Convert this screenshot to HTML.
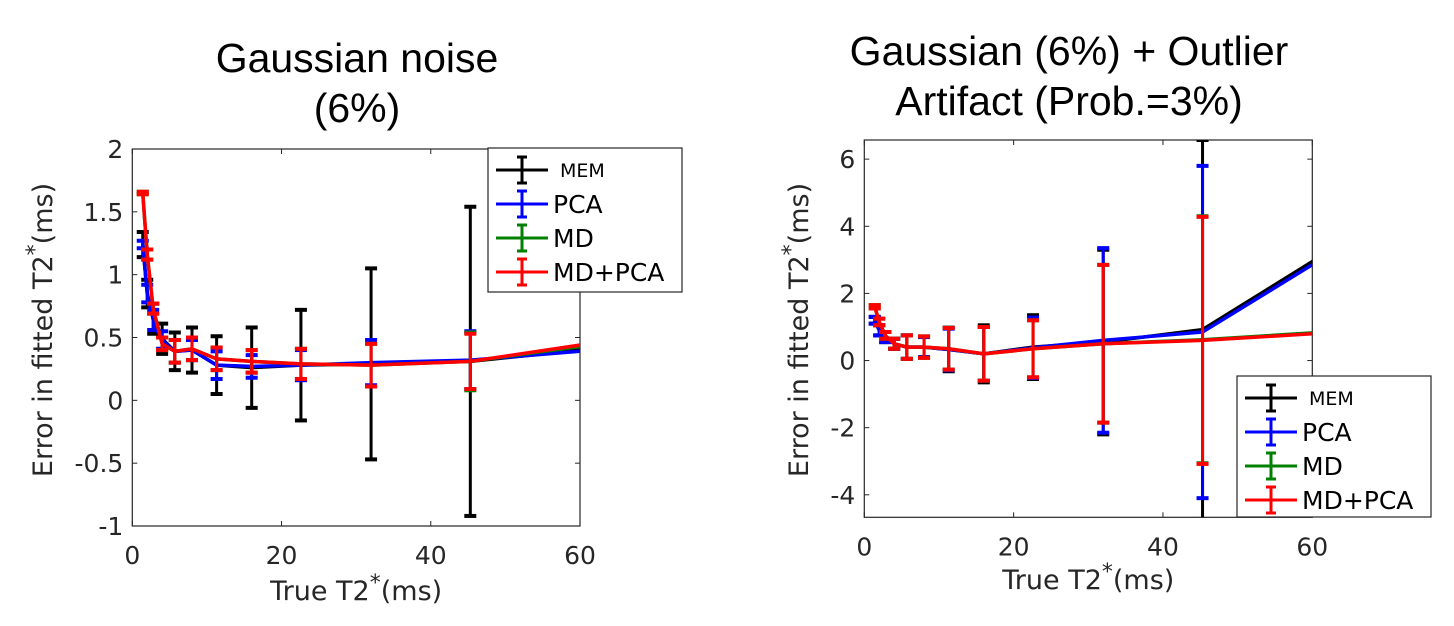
<!DOCTYPE html>
<html><head><meta charset="utf-8">
<style>
html,body{margin:0;padding:0;background:#fff;}
svg{display:block;font-family:"Liberation Sans","DejaVu Sans",sans-serif;}
.dv{font-family:"DejaVu Sans","Liberation Sans",sans-serif;}
</style></head>
<body>
<svg id="fig" width="1454" height="626" viewBox="0 0 1454 626" xmlns="http://www.w3.org/2000/svg">
<g id="left"></g>
<g id="right"></g>
</svg>
<script>
const xVals = [1.4, 2, 2.8, 4, 5.7, 8, 11.3, 16, 22.6, 32, 45.3, 64];
const seriesNames = ["MEM", "PCA", "MD", "MD+PCA"];
const seriesColors = ["#000000", "#0000ff", "#008000", "#ff0000"];

// Left chart (Gaussian noise 6%)
const leftMEM = [1.24, 0.85, 0.65, 0.49, 0.39, 0.40, 0.28, 0.26, 0.28, 0.29, 0.31, 0.425];
const leftMEMErr = [0.10, 0.11, 0.12, 0.12, 0.15, 0.18, 0.23, 0.32, 0.44, 0.76, 1.23, 0];
const leftPCA = [1.24, 0.85, 0.64, 0.48, 0.39, 0.40, 0.28, 0.27, 0.28, 0.30, 0.32, 0.41];
const leftPCAErr = [0.03, 0.07, 0.08, 0.07, 0.09, 0.08, 0.11, 0.09, 0.12, 0.18, 0.23, 0];
const leftMD = [1.65, 1.16, 0.73, 0.45, 0.39, 0.41, 0.33, 0.31, 0.29, 0.28, 0.31, 0.46];
const leftMDErr = [0.01, 0.04, 0.04, 0.05, 0.09, 0.09, 0.09, 0.09, 0.12, 0.17, 0.23, 0];
const leftMDPCA = [1.65, 1.16, 0.73, 0.45, 0.39, 0.41, 0.33, 0.31, 0.29, 0.28, 0.31, 0.475];
const leftMDPCAErr = [0.01, 0.04, 0.04, 0.05, 0.09, 0.09, 0.09, 0.09, 0.12, 0.17, 0.22, 0];
const leftYTicks = [-1, -0.5, 0, 0.5, 1, 1.5, 2];
const leftYTickLabels = ["-1", "-0.5", "0", "0.5", "1", "1.5", "2"];

// Right chart (Gaussian + outlier)
const rightMEM = [1.2, 0.9, 0.7, 0.5, 0.4, 0.4, 0.33, 0.2, 0.4, 0.55, 0.92, 3.5];
const rightMEMErr = [0.1, 0.15, 0.15, 0.15, 0.35, 0.3, 0.65, 0.85, 0.95, 2.75, 5.65, 0];
const rightPCA = [1.2, 0.9, 0.7, 0.5, 0.4, 0.4, 0.33, 0.2, 0.38, 0.6, 0.85, 3.4];
const rightPCAErr = [0.1, 0.15, 0.15, 0.15, 0.35, 0.3, 0.62, 0.8, 0.9, 2.75, 4.95, 0];
const rightMD = [1.6, 1.15, 0.75, 0.5, 0.4, 0.4, 0.35, 0.2, 0.35, 0.5, 0.62, 0.88];
const rightMDErr = [0.05, 0.1, 0.1, 0.15, 0.35, 0.32, 0.62, 0.8, 0.85, 2.35, 3.68, 0];
const rightMDPCA = [1.6, 1.15, 0.75, 0.5, 0.4, 0.4, 0.35, 0.2, 0.35, 0.5, 0.6, 0.85];
const rightMDPCAErr = [0.05, 0.1, 0.1, 0.15, 0.35, 0.32, 0.62, 0.8, 0.85, 2.35, 3.68, 0];
const rightYTicks = [-4, -2, 0, 2, 4, 6];
const rightYTickLabels = ["-4", "-2", "0", "2", "4", "6"];

const xTicks = [0, 20, 40, 60];
const xTickLabels = ["0", "20", "40", "60"];

const NS = "http://www.w3.org/2000/svg";
function mk(parent, tag, attrs, text) {
  const e = document.createElementNS(NS, tag);
  for (const k in attrs) e.setAttribute(k, attrs[k]);
  if (text !== undefined) e.textContent = text;
  parent.appendChild(e);
  return e;
}

function drawChart(g, cfg) {
  const {x0, x1, yTop, yBot, yMin, yMax, id} = cfg;
  const sx = v => x0 + (v - 0) / 60 * (x1 - x0);
  const sy = v => yBot - (v - yMin) / (yMax - yMin) * (yBot - yTop);

  const clip = mk(g, "clipPath", {id: "clip-" + id});
  mk(clip, "rect", {x: x0, y: yTop, width: x1 - x0, height: yBot - yTop});

  const box = mk(g, "rect", {x: x0, y: yTop, width: x1 - x0, height: yBot - yTop, fill: "none", stroke: "#262626", "stroke-width": 1.2});
  
  

  cfg.yTicks.forEach((t, i) => {
    const y = sy(t);
    mk(g, "line", {x1: x0, x2: x0 + 5, y1: y, y2: y, stroke: "#262626", "stroke-width": 1});
    mk(g, "line", {x1: x1, x2: x1 - 5, y1: y, y2: y, stroke: "#262626", "stroke-width": 1});
    const t2 = mk(g, "text", {class: "dv", x: x0 - 9, y: y + 9, "text-anchor": "end", "font-size": 25, fill: "#262626"}, cfg.yTickLabels[i]);
    
    
  });
  xTicks.forEach((t, i) => {
    const x = sx(t);
    mk(g, "line", {x1: x, x2: x, y1: yBot, y2: yBot - 5, stroke: "#262626", "stroke-width": 1});
    mk(g, "line", {x1: x, x2: x, y1: yTop, y2: yTop + 5, stroke: "#262626", "stroke-width": 1});
    const t2 = mk(g, "text", {class: "dv", x: x, y: yBot + 38, "text-anchor": "middle", "font-size": 25, fill: "#262626"}, xTickLabels[i]);
    
    
  });

  const data = mk(g, "g", {"clip-path": "url(#clip-" + id + ")"});
  
  
  cfg.series.forEach((s, si) => {
    const col = seriesColors[si];
    const sg = mk(data, "g", {});
    
    
    const pts = xVals.map((xv, i) => sx(xv) + "," + sy(s.vals[i])).join(" ");
    mk(sg, "polyline", {points: pts, fill: "none", stroke: col, "stroke-width": 3.5, "stroke-linejoin": "round"});
    xVals.forEach((xv, i) => {
      const e = s.err[i];
      if (!e) return;
      const x = sx(xv), ya = sy(s.vals[i] + e), yb = sy(s.vals[i] - e);
      const bar = mk(sg, "g", {stroke: col, "stroke-width": 3});
      
      
      mk(bar, "line", {x1: x, x2: x, y1: ya, y2: yb});
      mk(bar, "line", {x1: x - 6, x2: x + 6, y1: ya, y2: ya, "stroke-width": 4});
      mk(bar, "line", {x1: x - 6, x2: x + 6, y1: yb, y2: yb, "stroke-width": 4});
    });
  });

  cfg.title.forEach((line, i) => {
    const t = mk(g, "text", {x: cfg.titleX, y: cfg.titleY + i * 50, "text-anchor": "middle", "font-size": 41, fill: "#000"}, line);
    
    
  });
  const xl = mk(g, "text", {class: "dv", x: (x0 + x1) / 2, y: cfg.xLabelY, "text-anchor": "middle", "font-size": 27, fill: "#262626"});
  
  
  mk(xl, "tspan", {}, "True T2");
  mk(xl, "tspan", {dy: -10, "font-size": 22}, "*");
  mk(xl, "tspan", {dy: 10}, "(ms)");
  const yl = mk(g, "text", {class: "dv", x: 0, y: 0, "text-anchor": "middle", "font-size": 27, fill: "#262626", transform: "translate(" + cfg.yLabelX + "," + cfg.yLabelY + ") rotate(-90)"});
  
  
  mk(yl, "tspan", {}, "Error in fitted T2");
  mk(yl, "tspan", {dy: -10, "font-size": 22}, "*");
  mk(yl, "tspan", {dy: 10}, "(ms)");

  const L = cfg.legend;
  const lg = mk(g, "g", {});
  
  
  mk(lg, "rect", {x: L.x, y: L.y, width: L.w, height: L.h, fill: "#fff", stroke: "#262626", "stroke-width": 1.2});
  seriesNames.forEach((n, i) => {
    const y = L.y + 22 + i * 34;
    const col = seriesColors[i];
    const en = mk(lg, "g", {});
    
    
    mk(en, "line", {x1: L.x + 8, x2: L.x + 60, y1: y, y2: y, stroke: col, "stroke-width": 3});
    mk(en, "line", {x1: L.x + 34, x2: L.x + 34, y1: y - 13, y2: y + 13, stroke: col, "stroke-width": 3});
    mk(en, "line", {x1: L.x + 29, x2: L.x + 39, y1: y - 13, y2: y - 13, stroke: col, "stroke-width": 3});
    mk(en, "line", {x1: L.x + 29, x2: L.x + 39, y1: y + 13, y2: y + 13, stroke: col, "stroke-width": 3});
    if (i === 0) mk(en, "text", {class: "dv", x: L.x + 72, y: y + 7, "font-size": 19, fill: "#000"}, n);
    else mk(en, "text", {class: "dv", x: L.x + 65, y: y + 9, "font-size": 25, fill: "#000"}, n);
  });
}

drawChart(document.getElementById("left"), {
  id: "l", x0: 132.3, x1: 580, yTop: 149, yBot: 526, yMin: -1, yMax: 2,
  yTicks: leftYTicks, yTickLabels: leftYTickLabels,
  series: [{vals: leftMEM, err: leftMEMErr}, {vals: leftPCA, err: leftPCAErr}, {vals: leftMD, err: leftMDErr}, {vals: leftMDPCA, err: leftMDPCAErr}],
  title: ["Gaussian noise", "(6%)"], titleX: 357, titleY: 72,
  xLabelY: 600, yLabelX: 52, yLabelY: 330,
  legend: {x: 488, y: 148, w: 194, h: 144}
});
drawChart(document.getElementById("right"), {
  id: "r", x0: 864.3, x1: 1312.3, yTop: 140, yBot: 517.3, yMin: -4.67, yMax: 6.57,
  yTicks: rightYTicks, yTickLabels: rightYTickLabels,
  series: [{vals: rightMEM, err: rightMEMErr}, {vals: rightPCA, err: rightPCAErr}, {vals: rightMD, err: rightMDErr}, {vals: rightMDPCA, err: rightMDPCAErr}],
  title: ["Gaussian (6%) + Outlier", "Artifact (Prob.=3%)"], titleX: 1069, titleY: 65,
  xLabelY: 589, yLabelX: 808, yLabelY: 330,
  legend: {x: 1237, y: 376, w: 194, h: 141}
});
</script>
</body></html>
